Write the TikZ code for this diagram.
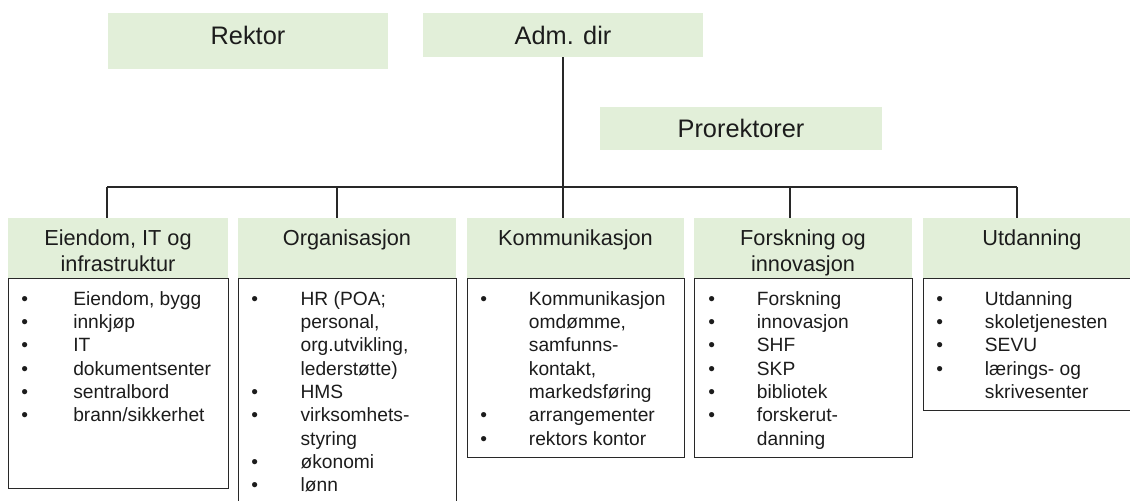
\documentclass[tikz,border=0pt]{standalone}
\usepackage{fontspec}
\setmainfont{Liberation Sans}
\usepackage{array}
\definecolor{hdrgreen}{RGB}{226,239,217}
\definecolor{ink}{RGB}{28,28,28}
\definecolor{rulec}{RGB}{40,40,40}
\newcommand\listfont{\fontsize{14.4pt}{17.5pt}\selectfont}
\newcommand\hdrfont{\fontsize{16.3pt}{19.5pt}\selectfont}
\newcommand\topfont{\fontsize{19pt}{23pt}\selectfont}
\newcommand\bul{\textbullet}
\begin{document}
\begin{tikzpicture}[x=0.75pt,y=-0.75pt,
  topbox/.style={fill=hdrgreen, inner sep=0pt, text=ink, font=\topfont,
    anchor=base, minimum width=210pt},
  hdrbox/.style={fill=hdrgreen, inner sep=0pt, minimum height=45pt},
  hdrtext/.style={align=center, font=\hdrfont, text=ink, inner sep=0pt, anchor=north},
  frame/.style={draw=rulec, line width=1.1pt, inner sep=0pt, anchor=north west},
  items/.style={font=\listfont, text=ink, inner sep=0pt, anchor=north west},
  wire/.style={draw=rulec, line width=1.1pt}]
\useasboundingbox (0,0) rectangle (1130,500);
\clip (0,0) rectangle (1130,500);

% leadership
\node[topbox, text height=23.25pt, text depth=18.75pt] (rektor) at (248,44) {Rektor};
\node[topbox, text height=23.25pt, text depth=9.75pt] (adm) at (563,44) {Adm. dir};
\node[topbox, minimum width=211.5pt, text height=22.5pt, text depth=9.75pt] (pro) at (741,137) {Prorektorer};

% division headers
\node[hdrbox, minimum width=165pt]    (h1) at (118,248) {};
\node[hdrbox, minimum width=163.5pt]  (h2) at (347,248) {};
\node[hdrbox, minimum width=162.75pt] (h3) at (575.5,248) {};
\node[hdrbox, minimum width=163.5pt]  (h4) at (803,248) {};
\node[hdrbox, minimum width=163.5pt]  (h5) at (1032,248) {};

\node[hdrtext] (t1) at (118,226.8) {\strut Eiendom, IT og\\infrastruktur};
\node[hdrtext] (t2) at (347,226.8) {\strut Organisasjon};
\node[hdrtext] (t3) at (575.5,226.8) {\strut Kommunikasjon};
\node[hdrtext] (t4) at (803,226.8) {\strut Forskning og\\innovasjon};
\node[hdrtext] (t5) at (1032,226.8) {\strut Utdanning};

% tree lines
\coordinate (j1) at (107,187);
\coordinate (j2) at (337,187);
\coordinate (j3) at (563,187);
\coordinate (j4) at (790,187);
\coordinate (j5) at (1017,187);
\draw[wire] (adm.south) -- (adm.south |- j3);
\draw[wire] (j1) -- (j5);
\draw[wire] (j1) -- (j1 |- h1.north);
\draw[wire] (j2) -- (j2 |- h2.north);
\draw[wire] (j3) -- (j3 |- h3.north);
\draw[wire] (j4) -- (j4 |- h4.north);
\draw[wire] (j5) -- (j5 |- h5.north);

% task frames
\node[frame, minimum width=165pt, minimum height=157.5pt]  (b1) at (8,278) {};
\node[frame, minimum width=163.5pt, minimum height=200pt]  (b2) at (238,278) {};
\node[frame, minimum width=162.75pt, minimum height=134.25pt] (b3) at (467,278) {};
\node[frame, minimum width=163.5pt, minimum height=134.25pt] (b4) at (694,278) {};
\node[frame, minimum width=170pt, minimum height=99pt]   (b5) at (923,278) {};

% task lists
\node[items] (l1) at (21,288.7) {\begin{tabular}{@{}p{39pt}@{}l@{}}
\bul & Eiendom, bygg\\ \bul & innkjøp\\ \bul & IT\\ \bul & dokumentsenter\\
\bul & sentralbord\\ \bul & brann/sikkerhet\end{tabular}};
\node[items] (l2) at (251,288.7) {\begin{tabular}{@{}p{37pt}@{}l@{}}
\bul & HR (POA;\\ & personal,\\ & org.utvikling,\\ & lederstøtte)\\
\bul & HMS\\ \bul & virksomhets-\\ & styring\\ \bul & økonomi\\ \bul & lønn\end{tabular}};
\node[items] (l3) at (480,288.7) {\begin{tabular}{@{}p{36.5pt}@{}l@{}}
\bul & Kommunikasjon\\ & omdømme,\\ & samfunns-\\ & kontakt,\\ & markedsføring\\
\bul & arrangementer\\ \bul & rektors kontor\end{tabular}};
\node[items] (l4) at (708,288.7) {\begin{tabular}{@{}p{36.5pt}@{}l@{}}
\bul & Forskning\\ \bul & innovasjon\\ \bul & SHF\\ \bul & SKP\\ \bul & bibliotek\\
\bul & forskerut-\\ & danning\end{tabular}};
\node[items] (l5) at (936,288.7) {\begin{tabular}{@{}p{36.5pt}@{}l@{}}
\bul & Utdanning\\ \bul & skoletjenesten\\ \bul & SEVU\\ \bul & lærings- og\\
 & skrivesenter\end{tabular}};
\end{tikzpicture}
\end{document}
